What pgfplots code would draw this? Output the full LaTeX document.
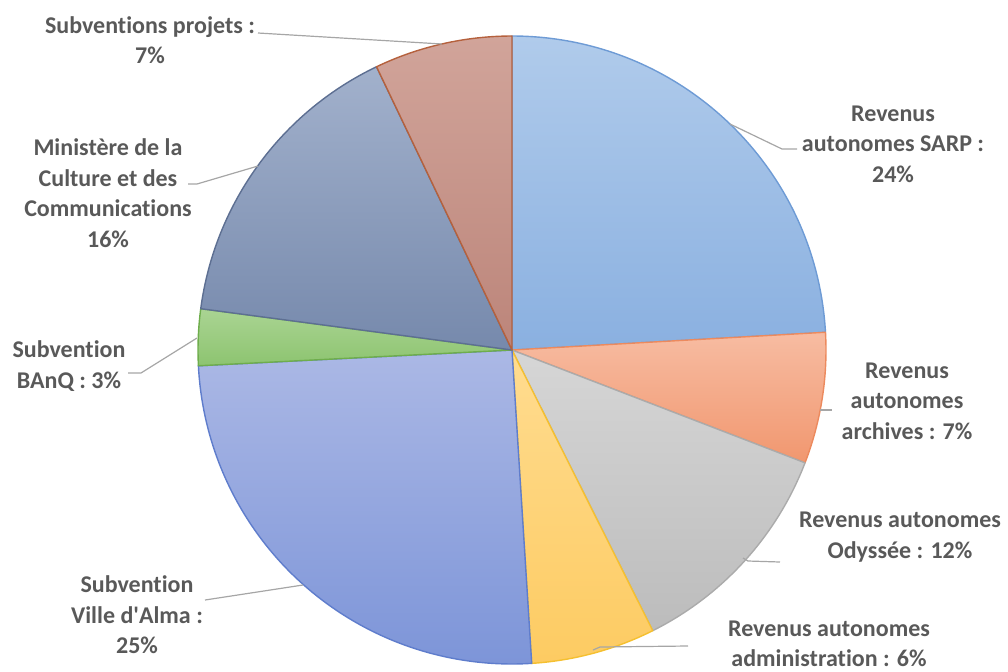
\documentclass[border=0pt]{standalone}
\usepackage{pgfplots}
\pgfplotsset{compat=1.18}
\usepackage{pgfplotstable}
\usepackage{fontspec}
\setmainfont{Carlito}[Ligatures={TeX,NoCommon}]

% slice colours: top / bottom of the gradient, edge
\definecolor{top0}{HTML}{B0CBEB}\definecolor{bot0}{HTML}{8AB0E0}\definecolor{edge0}{HTML}{6E9BD5}
\definecolor{top1}{HTML}{F7BCA2}\definecolor{bot1}{HTML}{F1976F}\definecolor{edge1}{HTML}{EC8A5E}
\definecolor{top2}{HTML}{D6D6D6}\definecolor{bot2}{HTML}{BCBCBC}\definecolor{edge2}{HTML}{ABABAB}
\definecolor{top3}{HTML}{FFDC90}\definecolor{bot3}{HTML}{FDCB62}\definecolor{edge3}{HTML}{F5C030}
\definecolor{top4}{HTML}{ABB8E5}\definecolor{bot4}{HTML}{7C94D8}\definecolor{edge4}{HTML}{5F7DCC}
\definecolor{top5}{HTML}{AAD493}\definecolor{bot5}{HTML}{8DC470}\definecolor{edge5}{HTML}{6EAD4C}
\definecolor{top6}{HTML}{A2B1CC}\definecolor{bot6}{HTML}{7689AC}\definecolor{edge6}{HTML}{5D6F92}
\definecolor{top7}{HTML}{D1A49A}\definecolor{bot7}{HTML}{BC857A}\definecolor{edge7}{HTML}{B5613D}
\definecolor{txt}{HTML}{595959}
\definecolor{leader}{HTML}{A6A6A6}

% shares in percent, clockwise from 12 o'clock
\pgfplotstableread{
idx value
0 24.1
1 6.75
2 11.75
3 6.4
4 25.2
5 2.9
6 15.8
7 7.1
}\piedata

\begin{document}
\begin{tikzpicture}[
  lbl/.style={font=\bfseries\fontsize{12}{15.25}\selectfont, text=txt, align=center, inner sep=0pt},
  lead/.style={draw=leader, line width=0.6pt}]

% start/end angle of each slice
\xdef\angcum{90}
\foreach \i in {0,...,7}{%
  \pgfplotstablegetelem{\i}{value}\of\piedata
  \pgfmathsetmacro\angend{\angcum-3.6*\pgfplotsretval}%
  \expandafter\xdef\csname sA\i\endcsname{\angcum}%
  \expandafter\xdef\csname sB\i\endcsname{\angend}%
  \xdef\angcum{\angend}%
}

\begin{axis}[
  name=pie,
  scale only axis, width=504pt, height=335.5pt,
  xmin=0, xmax=1008, ymin=0, ymax=671, y dir=reverse,
  hide axis, clip=false]

\pgfplotsinvokeforeach{0,...,7}{%
  \edef\slice{\noexpand\path[top color=top#1, bottom color=bot#1, draw=edge#1, line width=0.7pt, line join=round]
    (axis cs:512,350) -- ++(\csname sA#1\endcsname:157pt)
    arc[start angle=\csname sA#1\endcsname, end angle=\csname sB#1\endcsname, radius=157pt] -- cycle;}%
  \slice
}

% leader lines
\draw[lead] (axis cs:258,33) -- (axis cs:442,44);
\draw[lead] (axis cs:188,184) -- (axis cs:197,184) -- (axis cs:258,166);
\draw[lead] (axis cs:128,373) -- (axis cs:141,373) -- (axis cs:197,338);
\draw[lead] (axis cs:205,600) -- (axis cs:303,585);
\draw[lead] (axis cs:730,124) -- (axis cs:782,149) -- (axis cs:797,149);
\draw[lead] (axis cs:820,410) -- (axis cs:832,410);
\draw[lead] (axis cs:743,558) -- (axis cs:748,561) -- (axis cs:780,562);
\draw[lead] (axis cs:593,650) -- (axis cs:600,647) -- (axis cs:688,646);

% labels
\node[lbl] at (axis cs:150,40) {Subventions projets :\\7\%};
\node[lbl] at (axis cs:108,193) {Ministère de la\\Culture et des\\Communications\\16\%};
\node[lbl] at (axis cs:69,366) {Subvention\\BAnQ : 3\%};
\node[lbl] at (axis cs:137,615) {Subvention\\Ville d\textquotesingle Alma :\\25\%};
\node[lbl] at (axis cs:893,144) {Revenus\\autonomes SARP :\\24\%};
\node[lbl] at (axis cs:907,401) {Revenus\\autonomes\\archives : 7\%};
\node[lbl] at (axis cs:900,537) {Revenus autonomes\\Odyssée : 12\%};
\node[lbl] at (axis cs:829,644) {Revenus autonomes\\administration : 6\%};
\end{axis}
\pgfresetboundingbox
\path[use as bounding box] (pie.south west) rectangle (pie.north east);
\end{tikzpicture}
\end{document}
